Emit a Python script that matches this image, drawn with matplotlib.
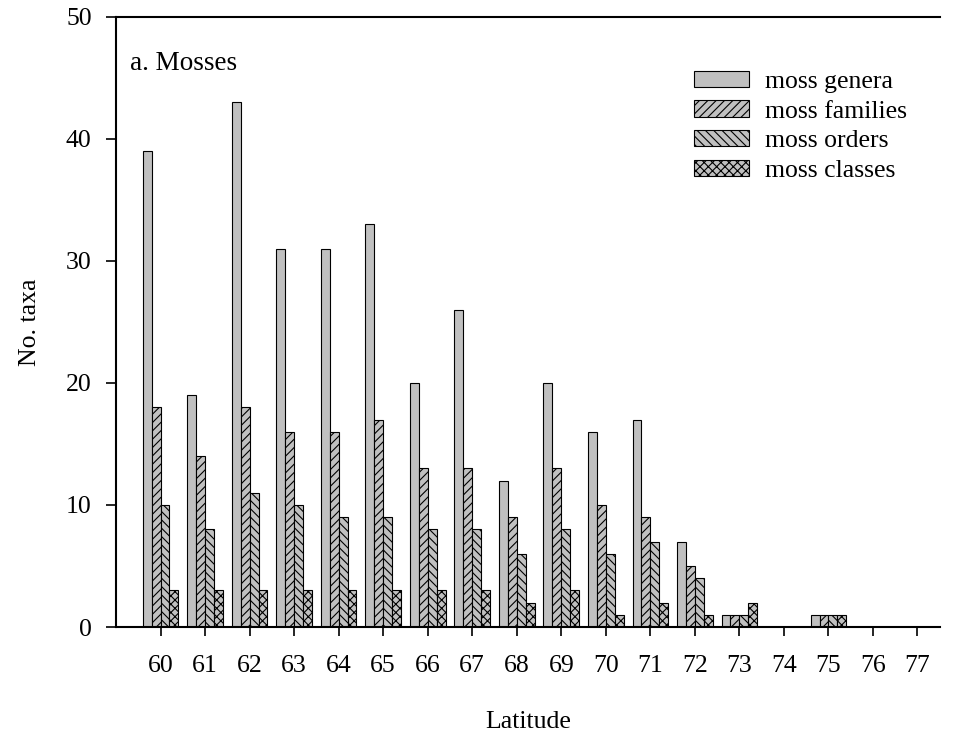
import numpy as np
import matplotlib.pyplot as plt

plt.rcParams['font.family'] = ['Liberation Serif', 'DejaVu Serif']
plt.rcParams['hatch.linewidth'] = 0.8

LATITUDE = list(range(60, 78))
GENERA = [39, 19, 43, 31, 31, 33, 20, 26, 12, 20, 16, 17, 7, 1, 0, 1, 0, 0]
FAMILIES = [18, 14, 18, 16, 16, 17, 13, 13, 9, 13, 10, 9, 5, 1, 0, 1, 0, 0]
ORDERS = [10, 8, 11, 10, 9, 9, 8, 8, 6, 8, 6, 7, 4, 1, 0, 1, 0, 0]
CLASSES = [3, 3, 3, 3, 3, 3, 3, 3, 2, 3, 1, 2, 1, 2, 0, 1, 0, 0]

SERIES = [
    ("moss genera",   GENERA,   ""),
    ("moss families", FAMILIES, "////"),
    ("moss orders",   ORDERS,   "\\\\\\\\"),
    ("moss classes",  CLASSES,  "xxxx"),
]

fig = plt.figure(figsize=(9.55, 7.38), dpi=100)
ax = fig.add_axes([0.1215, 0.1504, 0.8625, 0.8266])

x = np.array(LATITUDE)
w = 0.2
for i, (name, vals, hatch) in enumerate(SERIES):
    ax.bar(x - 0.3 + i * w, vals, width=w, color="#c0c0c0", edgecolor="black",
           linewidth=0.8, hatch=hatch, label=name)

ax.set_xlim(59.0, 77.5)
ax.set_ylim(0, 50)
ax.set_xticks(LATITUDE)
ax.set_yticks(range(0, 51, 10))
ax.tick_params(axis="x", direction="out", length=6.5, width=1.2, labelsize=18.5, pad=14)
ax.tick_params(axis="y", direction="out", length=7.5, width=1.2, labelsize=18.5, pad=10)
ax.spines["right"].set_visible(False)
for s in ["left", "top", "bottom"]:
    ax.spines[s].set_linewidth(1.5)

ax.set_xlabel("Latitude", fontsize=18.5, labelpad=24)
ax.set_ylabel("No. taxa", fontsize=18.5, labelpad=18)
ax.text(0.017, 0.945, "a. Mosses", transform=ax.transAxes, fontsize=19.5,
        va="top", ha="left")

ax.legend(loc="upper right", bbox_to_anchor=(0.96, 0.912), frameon=False,
          fontsize=18.5, handlelength=2.15, handleheight=0.6, labelspacing=0.29,
          handletextpad=0.6, borderpad=0, borderaxespad=0)

fig.savefig("out.png", dpi=100)
